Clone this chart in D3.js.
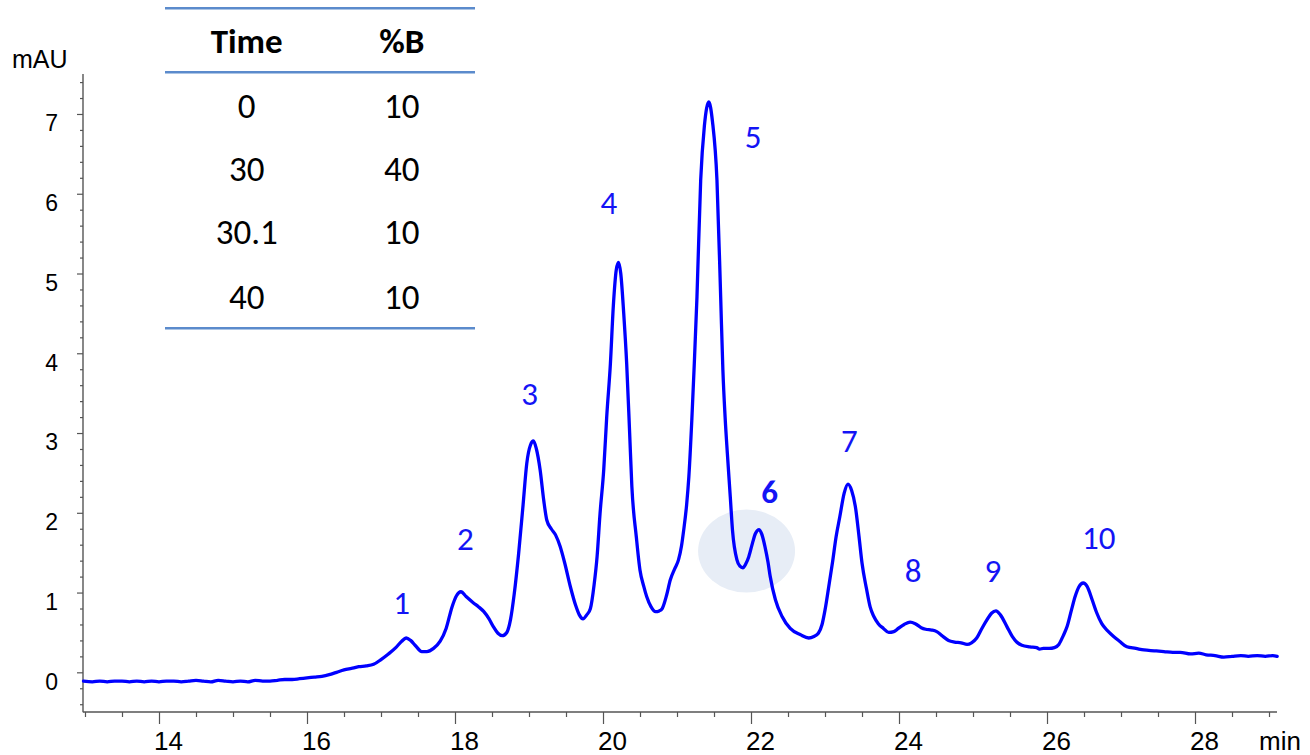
<!DOCTYPE html>
<html>
<head>
<meta charset="utf-8">
<script src="https://cdn.jsdelivr.net/npm/d3@7/dist/d3.min.js"></script>
<style>
  html, body { margin: 0; padding: 0; background: #fff; }
  svg { display: block; }
</style>
</head>
<body>
<script>
// ---------------- data ----------------
const timeMin = [
  12.98, 13.1, 13.2, 13.3, 13.4, 13.5, 13.6, 13.7, 13.8, 13.9, 14.0, 14.1, 14.2, 14.3, 14.4,
  14.5, 14.6, 14.7, 14.8, 14.9, 15.0, 15.1, 15.2, 15.3, 15.4, 15.5, 15.6, 15.7, 15.8, 15.9,
  16.0, 16.1, 16.2, 16.3, 16.4, 16.5, 16.6, 16.7, 16.8, 16.9, 17.0, 17.1, 17.2, 17.28, 17.34,
  17.4, 17.47, 17.55, 17.62, 17.71, 17.8, 17.88, 17.96, 18.02, 18.08, 18.15, 18.25, 18.32, 18.39,
  18.46, 18.52, 18.58, 18.64, 18.7, 18.75, 18.8, 18.86, 18.92, 18.97, 19.02, 19.06, 19.1, 19.15,
  19.2, 19.24, 19.3, 19.36, 19.42, 19.48, 19.56, 19.63, 19.68, 19.73, 19.78, 19.83, 19.88, 19.92,
  19.96, 20.01, 20.05, 20.1, 20.14, 20.18, 20.21, 20.24, 20.28, 20.32, 20.36, 20.39, 20.45, 20.5,
  20.55, 20.59, 20.65, 20.71, 20.76, 20.8, 20.86, 20.91, 20.97, 21.02, 21.06, 21.09, 21.13, 21.16,
  21.2, 21.23, 21.27, 21.32, 21.37, 21.43, 21.48, 21.54, 21.59, 21.62, 21.65, 21.68, 21.72, 21.75,
  21.81, 21.85, 21.89, 21.93, 21.97, 22.02, 22.06, 22.11, 22.15, 22.19, 22.23, 22.26, 22.33, 22.42,
  22.53, 22.67, 22.78, 22.85, 22.91, 22.96, 23.0, 23.05, 23.1, 23.15, 23.2, 23.26, 23.31, 23.36,
  23.41, 23.46, 23.5, 23.56, 23.61, 23.66, 23.72, 23.79, 23.86, 23.93, 23.99, 24.07, 24.15, 24.22,
  24.3, 24.36, 24.44, 24.51, 24.58, 24.67, 24.75, 24.84, 24.92, 24.98, 25.05, 25.12, 25.19, 25.25,
  25.31, 25.37, 25.46, 25.53, 25.59, 25.66, 25.77, 25.86, 25.9, 25.95, 26.03, 26.1, 26.16, 26.22,
  26.27, 26.33, 26.38, 26.43, 26.49, 26.54, 26.61, 26.67, 26.74, 26.82, 26.9, 26.98, 27.08, 27.2,
  27.31, 27.45, 27.58, 27.7, 27.8, 27.94, 28.05, 28.15, 28.27, 28.39, 28.5, 28.62, 28.72, 28.84,
  28.95, 29.05, 29.11
];
const absorbance = [
  -0.11, -0.12, -0.11, -0.12, -0.11, -0.11, -0.12, -0.11, -0.12, -0.11, -0.12, -0.11, -0.11, -0.12, -0.11,
  -0.10, -0.11, -0.12, -0.10, -0.11, -0.12, -0.11, -0.12, -0.10, -0.11, -0.11, -0.10, -0.09, -0.09, -0.08,
  -0.07, -0.06, -0.05, -0.03, 0.00, 0.03, 0.05, 0.07, 0.08, 0.10, 0.16, 0.23, 0.31, 0.39, 0.43,
  0.40, 0.33, 0.26, 0.26, 0.30, 0.39, 0.55, 0.82, 0.96, 1.01, 0.95, 0.87, 0.82, 0.76,
  0.67, 0.57, 0.49, 0.46, 0.50, 0.66, 0.98, 1.49, 2.10, 2.62, 2.85, 2.90, 2.80, 2.54,
  2.15, 1.91, 1.80, 1.72, 1.58, 1.38, 1.07, 0.84, 0.72, 0.67, 0.72, 0.80, 1.10, 1.45,
  1.99, 2.54, 3.20, 3.87, 4.60, 5.05, 5.14, 5.00, 4.50, 3.87, 3.00, 2.33, 1.70, 1.28,
  1.08, 0.95, 0.82, 0.76, 0.77, 0.80, 0.97, 1.16, 1.30, 1.41, 1.58, 1.78, 2.10, 2.45,
  3.16, 3.79, 4.71, 6.17, 6.85, 7.15, 6.90, 6.17, 4.71, 3.79, 3.20, 2.75, 2.20, 1.78,
  1.41, 1.33, 1.31, 1.36, 1.45, 1.62, 1.74, 1.79, 1.72, 1.57, 1.38, 1.20, 0.91, 0.70,
  0.55, 0.47, 0.43, 0.45, 0.49, 0.60, 0.78, 1.07, 1.37, 1.70, 1.95, 2.25, 2.36, 2.28,
  2.08, 1.70, 1.37, 1.05, 0.82, 0.70, 0.61, 0.55, 0.50, 0.51, 0.55, 0.60, 0.63, 0.61,
  0.56, 0.54, 0.53, 0.51, 0.46, 0.40, 0.38, 0.37, 0.35, 0.37, 0.43, 0.55, 0.66, 0.74,
  0.77, 0.72, 0.57, 0.45, 0.38, 0.34, 0.32, 0.31, 0.29, 0.30, 0.30, 0.31, 0.35, 0.46,
  0.57, 0.78, 0.95, 1.07, 1.12, 1.08, 0.91, 0.75, 0.61, 0.52, 0.45, 0.39, 0.32, 0.30,
  0.28, 0.27, 0.26, 0.25, 0.25, 0.23, 0.24, 0.22, 0.21, 0.19, 0.20, 0.21, 0.20, 0.21,
  0.20, 0.21, 0.20
];

const xMajorTicks = [14, 16, 18, 20, 22, 24, 26, 28];
const yMajorTicks = [0, 1, 2, 3, 4, 5, 6, 7];

const peakNames = ["1", "2", "3", "4", "5", "6", "7", "8", "9", "10"];
const peakLabelTime = [17.28, 18.14, 19.01, 20.08, 22.03, 22.25, 23.33, 24.19, 25.27, 26.70];
const peakLabelValue = [0.865, 1.66, 3.48, 5.88, 6.70, 2.26, 2.89, 1.26, 1.26, 1.68];
const boldPeak = ["6"];

const highlightTime = 21.94;
const highlightValue = 1.52;

const tableHeaders = ["Time", "%B"];
const gradientTime = ["0", "30", "30.1", "40"];
const gradientPercentB = ["10", "40", "10", "10"];

// ---------------- chart ----------------
const W = 1310, H = 755;
const svg = d3.select("body").append("svg").attr("width", W).attr("height", H);

const x = d3.scaleLinear().domain([12.973, 29.108]).range([83, 1277]);
const y = d3.scaleLinear().domain([-0.5, 7.5]).range([712.2, 74.1]);

const axisColor = "#555";
const tickFont = "'Liberation Sans', Arial, sans-serif";
const calFont = "Carlito, 'Open Sans', sans-serif";

// highlight ellipse
svg.append("ellipse")
  .attr("cx", x(highlightTime)).attr("cy", y(highlightValue))
  .attr("rx", 48.5).attr("ry", 41.5)
  .attr("fill", "#e7edf6");

// y axis
const yMinor = d3.range(-0.4, 7.41, 0.2).map(v => +v.toFixed(1)).filter(v => !yMajorTicks.includes(v));
const yAxisG = svg.append("g").attr("transform", "translate(83,0)");
yAxisG.call(d3.axisLeft(y).tickValues(yMinor).tickSize(3).tickFormat(""))
  .call(g => g.select(".domain").remove());
yAxisG.append("g").call(d3.axisLeft(y).tickValues(yMajorTicks).tickSize(6).tickPadding(19).tickFormat(d3.format("d")))
  .call(g => g.select(".domain").remove())
  .call(g => g.selectAll("text").attr("dy", 16.8).attr("font-size", 23).attr("font-family", tickFont).attr("fill", "#000"));
yAxisG.selectAll("line").attr("stroke", axisColor).attr("stroke-width", 1.2);
svg.append("line").attr("x1", 83).attr("x2", 83).attr("y1", y(7.5)).attr("y2", y(-0.5))
  .attr("stroke", axisColor).attr("stroke-width", 1.4);

// x axis
const xMinor = d3.range(13, 29.01, 0.5).filter(v => !xMajorTicks.includes(v));
const xAxisG = svg.append("g").attr("transform", "translate(0,712)");
xAxisG.call(d3.axisBottom(x).tickValues(xMinor).tickSize(5).tickFormat(""))
  .call(g => g.select(".domain").remove());
xAxisG.append("g").call(d3.axisBottom(x).tickValues(xMajorTicks).tickSize(12).tickFormat(d3.format("d")))
  .call(g => g.select(".domain").remove())
  .call(g => g.selectAll("text").attr("x", 9).attr("y", 38).attr("dy", 0)
    .attr("font-size", 26).attr("font-family", tickFont).attr("fill", "#000"));
xAxisG.selectAll("line").attr("stroke", axisColor).attr("stroke-width", 1.2);
svg.append("line").attr("x1", 83).attr("x2", 1277).attr("y1", 712).attr("y2", 712)
  .attr("stroke", axisColor).attr("stroke-width", 1.4);

// axis unit labels
svg.append("text").attr("x", 12).attr("y", 68).text("mAU")
  .attr("font-family", tickFont).attr("font-size", 25).attr("fill", "#000");
svg.append("text").attr("x", 1259).attr("y", 750).text("min")
  .attr("font-family", tickFont).attr("font-size", 26).attr("fill", "#000");

// chromatogram trace
const trace = timeMin.map((t, i) => ({ t, v: absorbance[i] }));
svg.append("path").datum(trace)
  .attr("fill", "none").attr("stroke", "#0000ff").attr("stroke-width", 3.3)
  .attr("stroke-linejoin", "round").attr("stroke-linecap", "round")
  .attr("d", d3.line().x(d => x(d.t)).y(d => y(d.v)).curve(d3.curveMonotoneX));

// peak labels
svg.append("g").selectAll("text").data(peakNames).join("text")
  .attr("x", (d, i) => x(peakLabelTime[i]))
  .attr("y", (d, i) => y(peakLabelValue[i]) + 10.5)
  .attr("text-anchor", "middle")
  .attr("font-family", calFont).attr("font-size", 33)
  .attr("font-weight", d => boldPeak.includes(d) ? "bold" : "normal")
  .attr("fill", "#1414f5")
  .text(d => d);

// gradient table
const tbl = svg.append("g");
const colX = [246.7, 401.7];
const ruleColor = "#5b8bcc";
[8.3, 72.3, 328.3].forEach(yy => {
  tbl.append("line").attr("x1", 165).attr("x2", 475).attr("y1", yy).attr("y2", yy)
    .attr("stroke", ruleColor).attr("stroke-width", 2.6);
});
const tSize = 35;
tbl.selectAll("text.h").data(tableHeaders).join("text").attr("class", "h")
  .attr("x", (d, i) => colX[i]).attr("y", 41.7 + 11.5)
  .attr("text-anchor", "middle").attr("font-family", calFont).attr("font-size", tSize)
  .attr("font-weight", "bold").attr("fill", "#000").text(d => d);
const rowY = [106.7, 170, 233.3, 298.3];
tbl.selectAll("text.c1").data(gradientTime).join("text").attr("class", "c1")
  .attr("x", colX[0]).attr("y", (d, i) => rowY[i] + 11)
  .attr("text-anchor", "middle").attr("font-family", calFont).attr("font-size", tSize)
  .attr("fill", "#000").text(d => d);
tbl.selectAll("text.c2").data(gradientPercentB).join("text").attr("class", "c2")
  .attr("x", colX[1]).attr("y", (d, i) => rowY[i] + 11)
  .attr("text-anchor", "middle").attr("font-family", calFont).attr("font-size", tSize)
  .attr("fill", "#000").text(d => d);
</script>
</body>
</html>
